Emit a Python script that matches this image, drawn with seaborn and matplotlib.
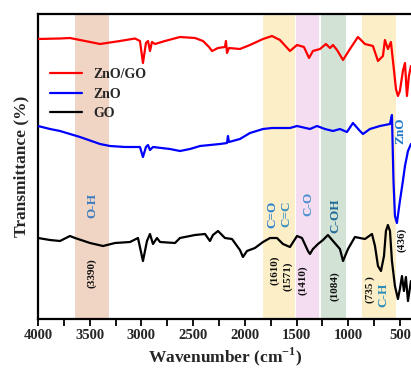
import numpy as np
import pandas as pd
import matplotlib
matplotlib.use("Agg")
import matplotlib.pyplot as plt
import seaborn as sns

# ---------------- data ----------------
wn_red = [4000, 3787, 3691, 3642, 3400, 3207, 3062, 3014, 2985, 2956, 2936, 2917, 2898, 2869,
          2772, 2627, 2482, 2404, 2346, 2317, 2259, 2192, 2182, 2172, 2153, 2047, 1950, 1824,
          1737, 1660, 1563, 1495, 1428, 1379, 1341, 1273, 1215, 1176, 1147, 1108, 1050, 983,
          906, 838, 761, 712, 664, 645, 616, 587, 567, 538, 519, 500, 471, 451, 432, 413, 393]
t_red = [280, 280.5, 281, 280, 275, 278, 280.5, 278, 256, 276, 278, 268, 277, 275,
         278, 282, 281, 278, 272, 268, 271, 272, 278, 266, 271, 270, 274, 280,
         283, 279, 268, 274, 272, 261, 268, 270, 275, 271, 274, 269, 259, 270,
         282, 275, 273, 258, 263, 279, 270, 277, 258, 230, 223, 228, 248, 256, 223, 243, 253]

wn_blue = [4000, 3884, 3787, 3691, 3594, 3400, 3304, 3159, 3014, 2985, 2956, 2936, 2917, 2888,
           2724, 2627, 2530, 2433, 2337, 2240, 2172, 2163, 2153, 2047, 1950, 1824, 1737, 1563,
           1495, 1370, 1302, 1225, 1147, 1080, 1012, 954, 886, 857, 790, 693, 596, 577, 562,
           548, 529, 500, 471, 451, 422, 393]
t_blue = [193, 190, 188, 185, 182, 175, 173, 172, 172, 162, 172, 174, 169, 172,
          170, 168, 170, 173, 174, 175, 176, 183, 177, 180, 186, 190, 191, 191,
          193, 190, 193, 190, 188, 190, 187, 196, 188, 185, 190, 193, 195, 204, 138,
          103, 96, 118, 138, 153, 168, 175]

wn_black = [4000, 3884, 3787, 3691, 3642, 3497, 3371, 3255, 3110, 3033, 2985, 2946, 2917, 2888,
            2849, 2820, 2675, 2627, 2482, 2385, 2337, 2308, 2259, 2192, 2124, 2047, 2018, 1979,
            1902, 1824, 1756, 1689, 1631, 1563, 1495, 1447, 1389, 1370, 1341, 1292, 1244, 1196,
            1147, 1080, 1050, 1002, 935, 838, 770, 741, 712, 683, 654, 635, 616, 596, 577, 548,
            519, 500, 480, 461, 442, 422, 393]
t_black = [81, 79, 78, 83, 81, 76, 73, 76, 77, 81, 58, 78, 85, 75,
           81, 77, 76, 81, 84, 85, 78, 84, 88, 81, 80, 69, 62, 68,
           71, 77, 81, 81, 75, 72, 83, 81, 68, 65, 70, 75, 79, 84,
           78, 70, 58, 70, 82, 80, 85, 73, 53, 48, 63, 88, 94, 88, 58, 33,
           20, 30, 43, 28, 42, 18, 38]

series_names = ["ZnO/GO", "ZnO", "GO"]
series_colors = ["#ff0000", "#0000ff", "#000000"]

band_ranges = [(3643, 3315), (1827, 1515), (1509, 1280), (1261, 1023), (866, 541)]
band_colors = ["#f1d5c4", "#fcefc8", "#f5ddf1", "#d2e2d5", "#fcefc8"]

group_labels = ["O-H", "C=O", "C=C", "C-O", "C-OH", "C-H", "ZnO"]
group_pos = [(3478, 114), (1737, 105), (1602, 105), (1389, 115), (1128, 103), (664, 24), (497, 188)]
group_colors = ["#3a7cc0", "#2e80d0", "#3b8fc0", "#4a8fd0", "#1f6a9a", "#2c8cb8", "#1f78c8"]

peak_labels = ["(3390)", "(1610)", "(1571)", "(1410)", "(1084)", "(735 )", "(436)"]
peak_pos = [(3478, 46), (1708, 49), (1583, 43), (1437, 39), (1128, 33), (790, 29), (486, 79)]

xticks = [4000, 3500, 3000, 2500, 2000, 1500, 1000, 500]

# ---------------- figure ----------------
sns.set_theme(style="white")
plt.rcParams["font.family"] = ["Liberation Serif", "DejaVu Serif"]
plt.rcParams["font.weight"] = "bold"
plt.rcParams["mathtext.fontset"] = "custom"
plt.rcParams["mathtext.rm"] = "Liberation Serif:bold"
plt.rcParams["mathtext.bf"] = "Liberation Serif:bold"

fig = plt.figure(figsize=(4.11, 3.71), dpi=100)
ax_w = 3620 * 0.1034 / 411
ax = fig.add_axes([38 / 411, 1 - 319 / 371, ax_w, (319 - 14) / 371])

for (a, b), c in zip(band_ranges, band_colors):
    ax.axvspan(a, b, color=c, lw=0, zorder=0)

for wn, t, name, col in zip([wn_red, wn_blue, wn_black], [t_red, t_blue, t_black],
                            series_names, series_colors):
    df = pd.DataFrame({"wn": wn, "t": t})
    sns.lineplot(data=df, x="wn", y="t", color=col, lw=1.6, label=name, ax=ax,
                 sort=False, estimator=None, zorder=3)

for lab, (x, y), c in zip(group_labels, group_pos, group_colors):
    ax.text(x, y, lab, rotation=90, ha="center", va="center", color=c,
            fontsize=9.5, fontweight="bold", zorder=4)
for lab, (x, y) in zip(peak_labels, peak_pos):
    ax.text(x, y, lab, rotation=90, ha="center", va="center", color="#111111",
            fontsize=8, fontweight="bold", zorder=4)

ax.set_xlim(4000, 380)
ax.set_ylim(0, 305)
ax.set_xticks(xticks)
ax.set_xticklabels([str(v) for v in xticks], fontsize=10.5, fontweight="bold")
ax.set_xticks(np.arange(3750, 380, -500), minor=True)
ax.set_yticks([])
ax.tick_params(axis="x", which="both", direction="out", length=5, width=1.3, bottom=True,
               color="black", pad=2)
for s in ["left", "bottom", "top"]:
    ax.spines[s].set_color("black")
    ax.spines[s].set_linewidth(1.6)
ax.spines["right"].set_visible(False)

ax.set_xlabel("Wavenumber (cm$^{-1}$)", fontsize=12.5, fontweight="bold", labelpad=3)
ax.set_ylabel("Transmittance (%)", fontsize=12.5, fontweight="bold", labelpad=6)

leg = ax.legend(loc="upper left", bbox_to_anchor=(0.032, 0.822), frameon=False,
                borderpad=0, borderaxespad=0, handlelength=2.3, handletextpad=0.8,
                labelspacing=0.45, prop={"weight": "bold", "size": 10})

fig.savefig("out.png", dpi=100)
